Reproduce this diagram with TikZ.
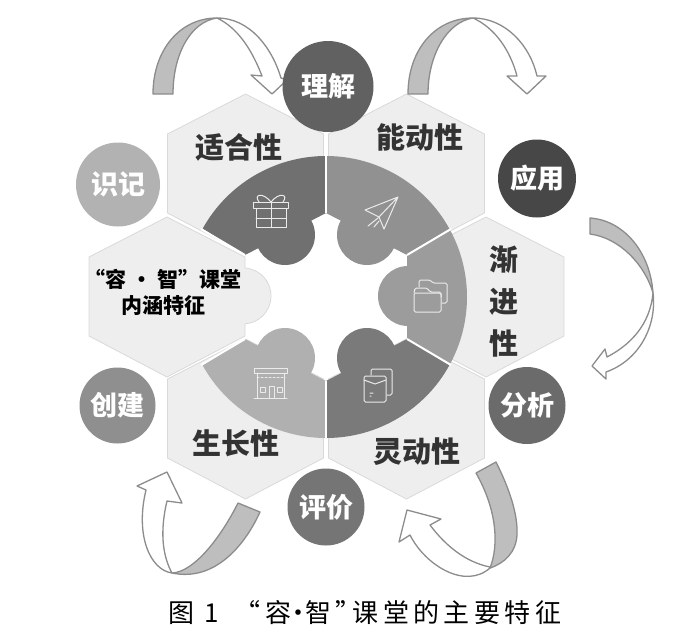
\documentclass[tikz,border=0pt]{standalone}
\usepackage{fontspec}
\newfontfamily\cjk{Noto Sans CJK SC}
\usepackage{tikz}
\usetikzlibrary{shapes,positioning,calc}
\definecolor{hexgray}{HTML}{EEEEEE}
\definecolor{hexedge}{HTML}{D9D9D9}
\definecolor{arrowgray}{HTML}{BEBEBE}
\definecolor{arrowedge}{HTML}{8C8C8C}
\definecolor{labeldark}{HTML}{333333}
\tikzset{
    hexcell/.style={fill=hexgray, draw=hexedge, line width=0.8pt},
    stage/.style={circle, inner sep=0pt, text=white, font=\cjk\bfseries\fontsize{27}{27}\selectfont},
    hexlabel/.style={inner sep=0pt, text=labeldark, align=center, font=\cjk\bfseries\fontsize{29}{29}\selectfont},
    iconline/.style={draw=white!92!black, line width=1pt, line join=round, line cap=round},
    bandgray/.style={fill=arrowgray, draw=arrowedge, line width=1.3pt, line join=round},
    bandwhite/.style={fill=white, draw=arrowedge, line width=1.3pt, line join=round}
}
\begin{document}
\begin{tikzpicture}[x=1pt, y=-1pt]
    \useasboundingbox (0,0) rectangle (700,635);
    \coordinate (ctr) at (326,297);

    % hexagons
    \foreach \cx/\cy in {245.5/174, 406.5/174, 486/297, 406.5/419, 245.5/419, 167/297}
        \filldraw[hexcell] (\cx,\cy) ++(0,-80) -- ++(78,40) -- ++(0,79) -- ++(-78,41) -- ++(-78,-41) -- ++(0,-79) -- cycle;
    \fill[hexgray] (243,296) circle (28);
    \draw[hexedge, line width=0.8pt] (245,268) arc[start angle=-86, end angle=86, radius=28];

    % ring parts
    \fill[black!56] (326,213) -- (245,255) -- ($(ctr)+(-151:141)$) arc[start angle=-151, end angle=-90, radius=141] -- cycle;
    \fill[black!56] (285,235) circle (30);
    \fill[black!43] (326,213) -- (407,255) -- ($(ctr)+(-29:141)$) arc[start angle=-29, end angle=-90, radius=141] -- cycle;
    \fill[black!43] (367,235) circle (30);
    \fill[black!39] (407,255) -- (407,339) -- ($(ctr)+(29:141)$) arc[start angle=29, end angle=-29, radius=141] -- cycle;
    \fill[black!39] (408,296) circle (30);
    \fill[black!52] (407,339) -- (326,381) -- ($(ctr)+(90:141)$) arc[start angle=90, end angle=29, radius=141] -- cycle;
    \fill[black!52] (367,358) circle (30);
    \fill[black!31] (326,381) -- (245,339) -- ($(ctr)+(151:141)$) arc[start angle=151, end angle=90, radius=141] -- cycle;
    \fill[black!31] (285,358) circle (30);

    % white gaps between the parts
    \draw[white, line width=2pt] (326,213) -- (326,156) (326,381) -- (326,438);
    \draw[white, line width=2pt] (407,255) -- (451,229) (407,339) -- (451,365);
    \draw[white, line width=2pt] (245,255) -- (201,229) (245,339) -- (201,365);

    % icons
    \draw[iconline] (253,202) rectangle (288,208) (256,208) rectangle (286,227) (271,202) -- (271,227) (256,218) -- (286,218);
    \draw[iconline] (271,202) .. controls (263,192) and (253,194) .. (259,202) (271,202) .. controls (279,192) and (289,194) .. (283,202);
    \draw[iconline] (398,197) -- (365,210) -- (379,217) -- (384,229) -- cycle (398,197) -- (379,217) (368,226) -- (378,218) (374,227) -- (379,221);
    \draw[iconline, rounded corners=1.5pt] (414,293) rectangle (441,312);
    \draw[iconline, rounded corners=1.5pt] (414,293) -- (415,288) -- (427,288) -- (430,292) -- (441,292) -- (441,297);
    \draw[iconline, rounded corners=1.5pt] (419,287) -- (419,280) -- (430,280) -- (433,283) -- (447,283) -- (447,303) -- (442,303);
    \draw[iconline, rounded corners=1.5pt] (364,376) rectangle (386,402);
    \draw[iconline] (364,380) -- (375,384) -- (386,380) (370,393) -- (373,393) (370,396) -- (371,396);
    \draw[iconline, rounded corners=1.5pt] (371,375) -- (371,369) -- (392,369) -- (392,395) -- (387,395);
    \draw[iconline] (254,368) rectangle (287,373) (254,398) -- (287,398) (257,373) -- (257,398) (284,373) -- (284,398);
    \draw[iconline, dash pattern=on 2pt off 2pt] (257,377) -- (285,377);
    \draw[iconline] (260,387) rectangle (265,392) (277,387) rectangle (282,392) (269,398) -- (269,386) -- (274,386) -- (274,398);

    % arrows
    \filldraw[bandwhite] (217,18) .. controls (250,18) and (272,48) .. (281,78) -- (287,80) -- (272,94) -- (251,75) -- (262,76) .. controls (252,50) and (238,28) .. (217,18) -- cycle;
    \filldraw[bandgray] (153,94) .. controls (153,50) and (180,18) .. (217,18) .. controls (190,22) and (173,55) .. (173,94) -- cycle;
    \filldraw[bandwhite] (473,18) .. controls (505,18) and (530,45) .. (537,76) -- (546,76) -- (527,94) -- (507,76) -- (517,76) .. controls (510,50) and (495,28) .. (473,18) -- cycle;
    \filldraw[bandgray] (408,94) .. controls (408,50) and (435,18) .. (473,18) .. controls (447,22) and (428,55) .. (428,94) -- cycle;
    \filldraw[bandwhite] (653,293) .. controls (657,325) and (640,360) .. (606,372) -- (606,379) -- (592,366) -- (605,349) -- (607,357) .. controls (630,345) and (650,325) .. (653,293) -- cycle;
    \filldraw[bandgray] (590,218) .. controls (622,220) and (650,250) .. (653,293) .. controls (645,265) and (620,238) .. (590,234) -- cycle;
    \filldraw[bandwhite] (490,568) .. controls (465,590) and (425,565) .. (410,535) -- (399,542) -- (407,510) -- (441,519) -- (430,525) .. controls (445,545) and (465,562) .. (490,567) -- cycle;
    \filldraw[bandgray] (496,462) .. controls (510,490) and (518,515) .. (517,535) .. controls (516,552) and (505,563) .. (490,568) .. controls (499,545) and (497,510) .. (476,473) -- cycle;
    \filldraw[bandwhite] (172,573) .. controls (150,570) and (135,535) .. (146,490) -- (137,486) -- (167,472) -- (182,503) -- (167,501) .. controls (160,530) and (162,555) .. (172,573) -- cycle;
    \filldraw[bandgray] (260,512) .. controls (245,545) and (215,582) .. (172,573) .. controls (195,572) and (222,535) .. (238,503) -- cycle;

    % stages
    \node[stage, fill=black!62, minimum size=91pt] (lijie) at (328,86.5) {理解};
    \node[stage, fill=black!30, minimum size=84pt] (shiji) at (118,184.5) {识记};
    \node[stage, fill=black!72, minimum size=78pt] (yingyong) at (537,178.5) {应用};
    \node[stage, fill=black!58, minimum size=77pt] (fenxi) at (527,405.5) {分析};
    \node[stage, fill=black!54, minimum size=77pt] (pingjia) at (326,507) {评价};
    \node[stage, fill=black!44, minimum size=76pt] (chuangjian) at (117.5,405.5) {创建};

    % hexagon labels
    \node[hexlabel] (shihe) at (239,147) {适合性};
    \node[hexlabel] (nengdong) at (420,137) {能动性};
    \node[hexlabel, font=\cjk\bfseries\fontsize{29}{42}\selectfont] (jianjin) at (504,301) {渐\\进\\性};
    \node[hexlabel] (lingdong) at (417,452) {灵动性};
    \node[hexlabel] (shengzhang) at (236,443) {生长性};
    \node[hexlabel, text=black, font=\cjk\bfseries\fontsize{21}{26}\selectfont] (neihan) at (163,292) {“容 · 智”课堂\\内涵特征};

    % caption
    \node[inner sep=0pt, anchor=west, font=\cjk\fontsize{26}{26}\selectfont\addfontfeature{LetterSpace=17}] (caption) at (168,613) {图 1\hspace{16pt}“容\kern-6pt·\kern-6pt智”\kern-9pt课堂的主要特征};
\end{tikzpicture}
\end{document}
